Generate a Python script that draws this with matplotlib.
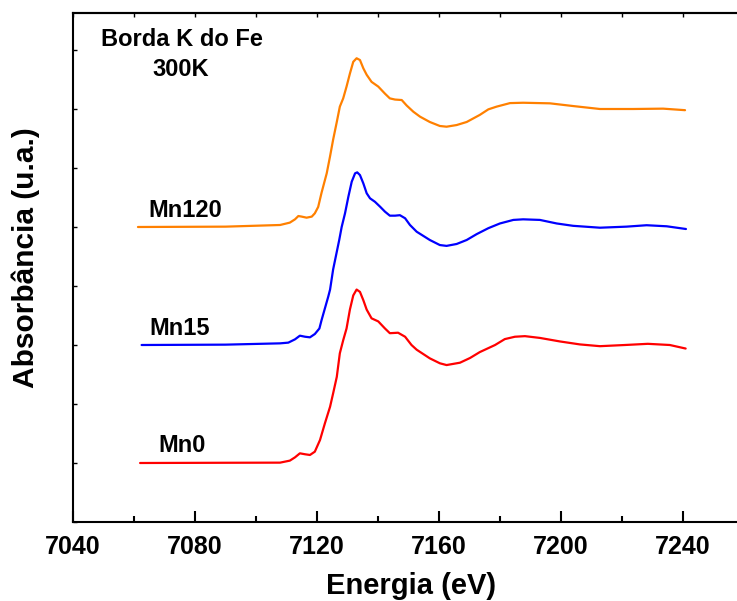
import matplotlib
matplotlib.use("Agg")
import matplotlib.pyplot as plt
from matplotlib.ticker import MultipleLocator

plt.rcParams['font.family'] = ['Liberation Sans', 'DejaVu Sans']
plt.rcParams['font.weight'] = 'bold'

# Mn0 (red)
e_mn0 = [7062.0, 7090.0, 7107.9, 7111.1, 7112.8, 7114.4, 7116.1, 7117.7, 7119.3, 7121.0,
         7122.6, 7124.3, 7125.3, 7126.5, 7127.5, 7128.6, 7129.7, 7130.8, 7131.9, 7133.0,
         7134.1, 7135.2, 7136.3, 7137.9, 7140.1, 7142.3, 7143.9, 7146.6, 7148.9, 7151.0,
         7152.7, 7157.0, 7160.3, 7162.5, 7166.9, 7170.2, 7173.4, 7178.4, 7181.6, 7184.9,
         7188.2, 7193.1, 7199.7, 7206.2, 7212.8, 7221.0, 7228.5, 7235.7, 7240.9]
mu_mn0 = [0.0, 0.002, 0.003, 0.02, 0.048, 0.082, 0.074, 0.068, 0.096, 0.195,
          0.336, 0.477, 0.59, 0.73, 0.93, 1.04, 1.14, 1.30, 1.42, 1.47,
          1.45, 1.38, 1.30, 1.226, 1.20, 1.14, 1.10, 1.104, 1.07, 1.0,
          0.96, 0.887, 0.845, 0.83, 0.85, 0.89, 0.94, 1.0, 1.05, 1.07,
          1.075, 1.06, 1.03, 1.005, 0.99, 1.0, 1.01, 1.0, 0.97]

# Mn15 (blue)
e_mn15 = [7062.5, 7090.0, 7107.9, 7110.6, 7112.8, 7114.4, 7116.1, 7117.7, 7119.3, 7120.8,
          7121.5, 7122.6, 7123.7, 7124.3, 7125.3, 7127.3, 7128.1, 7129.2, 7130.3, 7131.4,
          7132.5, 7133.2, 7134.1, 7135.2, 7136.3, 7137.4, 7139.0, 7140.7, 7142.3, 7143.9,
          7145.6, 7147.2, 7148.9, 7150.5, 7152.7, 7157.0, 7160.3, 7162.5, 7165.8,
          7169.1, 7172.4, 7176.2, 7180.0, 7184.4, 7187.6, 7193.1, 7198.6, 7204.0, 7212.8,
          7221.5, 7228.1, 7234.7, 7241.0]
mu_mn15 = [0.0, 0.003, 0.014, 0.02, 0.048, 0.079, 0.07, 0.065, 0.093, 0.14,
           0.21, 0.31, 0.41, 0.47, 0.64, 0.89, 1.00, 1.116, 1.257, 1.384,
           1.455, 1.463, 1.44, 1.37, 1.286, 1.243, 1.214, 1.172, 1.13, 1.096,
           1.096, 1.10, 1.074, 1.017, 0.96, 0.89, 0.847, 0.84, 0.856,
           0.89, 0.94, 0.99, 1.03, 1.06, 1.065, 1.06, 1.03, 1.01, 0.994,
           1.003, 1.015, 1.006, 0.983]

# Mn120 (orange)
e_mn120 = [7061.3, 7090.0, 7107.9, 7111.1, 7112.8, 7113.9, 7115.0, 7116.6, 7118.3, 7119.3,
           7120.4, 7121.5, 7123.2, 7124.3, 7125.3, 7126.5, 7127.5, 7128.6, 7129.7, 7130.8,
           7131.9, 7133.0, 7134.1, 7135.2, 7136.3, 7137.9, 7140.1, 7142.3, 7143.9, 7145.6,
           7147.8, 7149.4, 7151.6, 7153.8, 7157.0, 7160.3, 7162.5, 7165.8, 7169.1, 7173.4,
           7176.2, 7178.9, 7183.3, 7187.6, 7196.4, 7204.0, 7212.8, 7223.7, 7233.5, 7240.7]
mu_mn120 = [0.0, 0.003, 0.017, 0.037, 0.065, 0.093, 0.088, 0.079, 0.088, 0.116,
            0.17, 0.29, 0.455, 0.60, 0.74, 0.89, 1.02, 1.09, 1.19, 1.30,
            1.40, 1.43, 1.415, 1.345, 1.29, 1.23, 1.19, 1.13, 1.09, 1.08,
            1.076, 1.03, 0.977, 0.935, 0.89, 0.856, 0.85, 0.864, 0.89, 0.95,
            0.997, 1.02, 1.05, 1.053, 1.048, 1.025, 1.0, 1.0, 1.003, 0.99]

offsets = [0.0, 1.0, 2.0]
labels = ["Mn0", "Mn15", "Mn120"]
colors = ["#FF0000", "#0000FF", "#FF8000"]
xticks = [7040, 7080, 7120, 7160, 7200, 7240]

fig = plt.figure(figsize=(7.37, 6.01), dpi=100)
ax = fig.add_axes([73/737, 79/601, 677/737, 509/601])

series = [(e_mn0, mu_mn0), (e_mn15, mu_mn15), (e_mn120, mu_mn120)]
for (e, mu), off, c in zip(series, offsets, colors):
    ax.plot(e, [m + off for m in mu], color=c, lw=1.6,
            solid_capstyle='round', solid_joinstyle='round')

ax.set_xlim(7040, 7262)
ax.set_ylim(-0.5, -0.5 + 509/118)
ax.set_xticks(xticks)
ax.set_xticklabels([str(t) for t in xticks])
ax.xaxis.set_minor_locator(MultipleLocator(20))
ax.yaxis.set_major_locator(MultipleLocator(0.5))
ax.set_yticklabels([])
ax.tick_params(axis='x', which='major', direction='in', length=8, width=1.5,
               labelsize=18, pad=9)
ax.tick_params(axis='x', which='minor', direction='in', length=4, width=1.5)
ax.tick_params(axis='y', which='major', direction='in', length=3, width=1.0, left=True)
for lab in ax.get_xticklabels():
    lab.set_fontweight('bold')

sec = ax.secondary_xaxis('top')
sec.set_xticks(list(range(7040, 7261, 20)))
sec.tick_params(direction='in', length=3, width=1.0, labeltop=False)
sec.spines['top'].set_linewidth(1.5)

for s in ax.spines.values():
    s.set_linewidth(1.5)

ax.set_xlabel("Energia (eV)", fontsize=21, fontweight='bold', labelpad=10)
ax.set_ylabel("Absorbância (u.a.)", fontsize=21.5, fontweight='bold')
ax.yaxis.set_label_coords(-0.049, 0.52)

label_pos = [(7067.9, 0.096), (7065.2, 1.085), (7064.6, 2.087)]
for (x, y), t in zip(label_pos, labels):
    ax.text(x, y, t, fontsize=17, fontweight='bold', ha='left', va='baseline')

ax.text(7075.7, 3.53, "Borda K do Fe", fontsize=17, fontweight='bold', ha='center', va='baseline')
ax.text(7075.2, 3.28, "300K", fontsize=17, fontweight='bold', ha='center', va='baseline')

fig.savefig("out.png", dpi=100)
